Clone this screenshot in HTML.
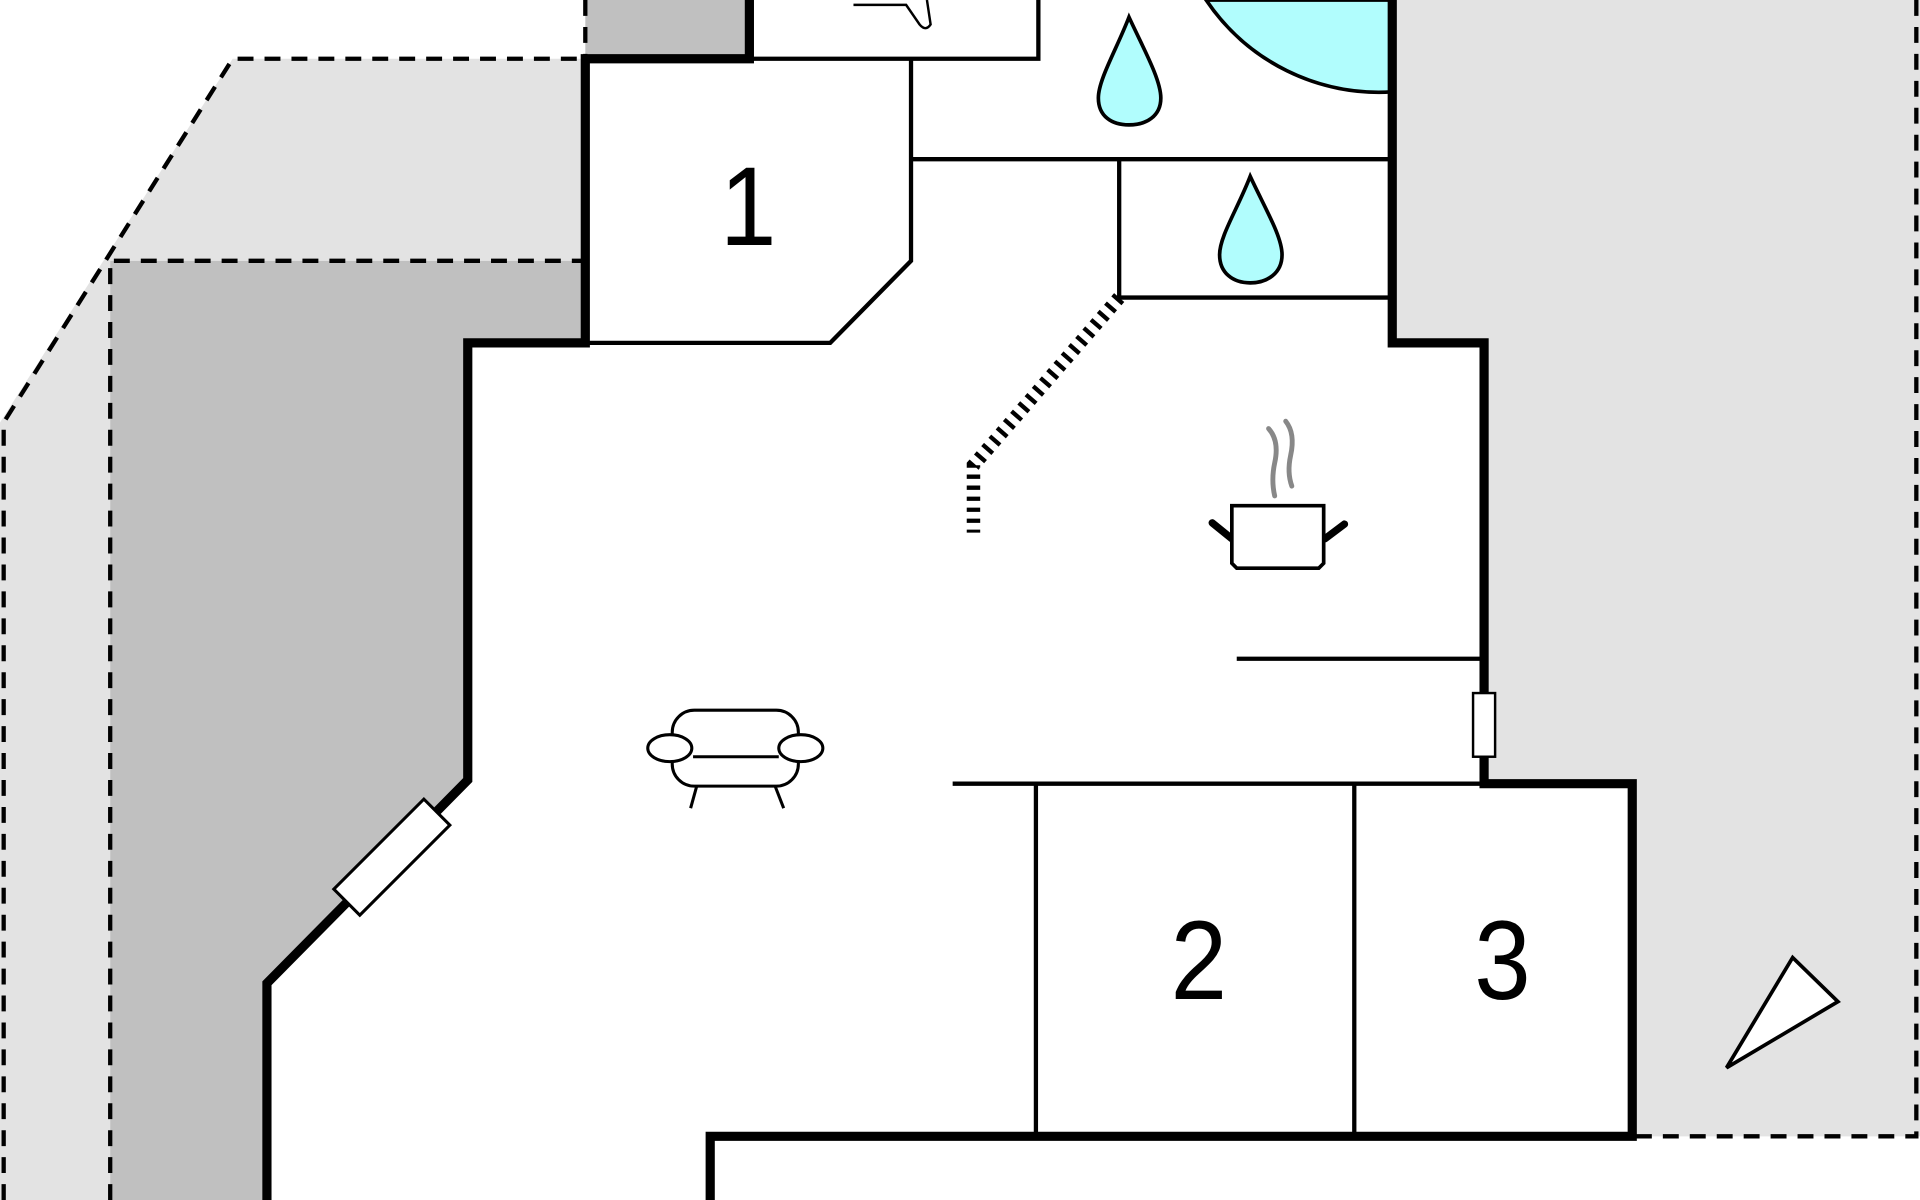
<!DOCTYPE html>
<html><head><meta charset="utf-8"><style>html,body{margin:0;padding:0;background:#fff;overflow:hidden}svg{display:block}</style></head>
<body>
<svg width="1920" height="1200" viewBox="0 0 1568 980" preserveAspectRatio="none" xmlns="http://www.w3.org/2000/svg">
<rect width="1568" height="980" fill="#fff"/>
<polygon points="0,345 190,48 478,48 478,213 90,213 90,980 0,980" fill="#e3e3e3"/>
<polygon points="1137,0 1568,0 1568,928 1333,928 1333,640 1212,640 1212,280 1137,280" fill="#e3e3e3"/>
<polygon points="90,213 478,213 478,280 382,280 382,637 218,803 218,980 90,980" fill="#c0c0c0"/>
<rect x="478" y="0" width="134" height="48" fill="#c0c0c0"/>
<g fill="none" stroke="#000" stroke-width="3.5" stroke-dasharray="13,9">
<polyline points="3,980 3,345 190,48 478,48"/>
<polyline points="478,0 478,48"/>
<polyline points="90,980 90,213 478,213"/>
<polyline points="1565,0 1565,928 1333,928"/>
</g>
<path d="M985,0 A170,170 0 0 0 1137,75 L1137,0 Z" fill="#b1fdfd" stroke="#000" stroke-width="3"/>
<g fill="none" stroke="#000" stroke-width="3.5">
<polyline points="612,48 848,48 848,0"/>
<polyline points="744,48 744,213 678,280 478,280"/>
<line x1="744" y1="130" x2="1137" y2="130"/>
<polyline points="914,130 914,243 1137,243"/>
<line x1="1010" y1="538" x2="1212" y2="538"/>
<line x1="778" y1="640" x2="1212" y2="640"/>
<line x1="846" y1="640" x2="846" y2="928"/>
<line x1="1106" y1="640" x2="1106" y2="928"/>
</g>
<g fill="none" stroke="#000" stroke-width="7.5" stroke-linejoin="miter">
<polyline points="612,0 612,48 478,48 478,280 382,280 382,637 218,803 218,980"/>
<polyline points="1137,0 1137,280 1212,280 1212,640 1333,640 1333,928 580,928 580,980"/>
</g>
<polyline points="914,243 795,380 795,435" fill="none" stroke="#000" stroke-width="11" stroke-dasharray="3.5,5.5"/>
<rect x="-52" y="-15" width="104" height="30" fill="#fff" stroke="#000" stroke-width="2.5" transform="translate(320,700) rotate(-45)"/>
<rect x="1203" y="566" width="18" height="52" fill="#fff" stroke="#000" stroke-width="2"/>
<g fill="#b1fdfd" stroke="#000" stroke-width="3">
<path d="M922,14 C912,40 897,65 897,80 C897,95 908,102 922,102 C936,102 948,95 948,80 C948,65 934,40 922,14 Z"/>
<path d="M1021,144 C1011,170 996,193 996,208 C996,223 1007,231 1021,231 C1035,231 1047,223 1047,208 C1047,193 1033,170 1021,144 Z"/>
</g>
<g fill="none" stroke="#000" stroke-width="2">
<path d="M697,4 L740,4 L751,20 Q756,26 760,20 L757,0"/>
</g>
<g font-family="Liberation Sans, sans-serif" font-size="92" text-anchor="middle" fill="#000">
<text x="0" y="0" transform="translate(611,200) scale(0.9,1)">1</text>
<text x="0" y="0" transform="translate(979,816) scale(0.9,1)">2</text>
<text x="0" y="0" transform="translate(1227,816) scale(0.9,1)">3</text>
</g>
<g fill="#fff" stroke="#000" stroke-width="2.5">
<line x1="569" y1="642" x2="564" y2="660"/>
<line x1="633" y1="642" x2="640" y2="660"/>
<rect x="549" y="580" width="103" height="62" rx="18"/>
<line x1="566" y1="618" x2="636" y2="618"/>
<ellipse cx="547" cy="611" rx="18" ry="11"/>
<ellipse cx="654" cy="611" rx="18" ry="11"/>
</g>
<g>
<path d="M1036,350 Q1045,360 1041,378 Q1038,392 1041,405" fill="none" stroke="#888" stroke-width="4" stroke-linecap="round"/>
<path d="M1050,344 Q1058,354 1054,372 Q1051,386 1055,397" fill="none" stroke="#888" stroke-width="4" stroke-linecap="round"/>
<line x1="990" y1="427" x2="1006" y2="440" stroke="#000" stroke-width="6" stroke-linecap="round"/>
<line x1="1098" y1="428" x2="1082" y2="440" stroke="#000" stroke-width="6" stroke-linecap="round"/>
<path d="M1006,413 L1081,413 L1081,460 L1077,464 L1010,464 L1006,460 Z" fill="#fff" stroke="#000" stroke-width="3"/>
</g>
<polygon points="1410,872 1464,782 1501,818" fill="#fff" stroke="#000" stroke-width="3"/>
</svg>
</body></html>
